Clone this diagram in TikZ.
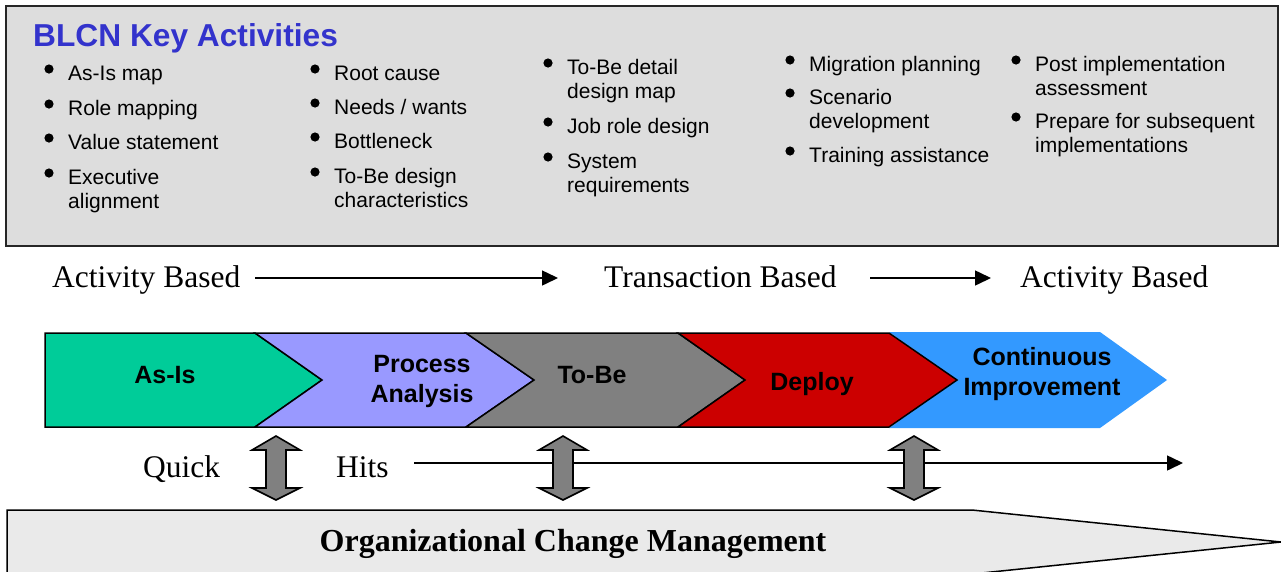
\documentclass[tikz,border=0pt]{standalone}
\usepackage{fontspec}
\setmainfont{Liberation Serif}
\setsansfont{Liberation Sans}
\usetikzlibrary{arrows.meta}
\definecolor{boxgray}{HTML}{DDDDDD}
\definecolor{ocmgray}{HTML}{EAEAEA}
\definecolor{titleblue}{HTML}{3333CC}
\definecolor{asisgreen}{HTML}{00CC99}
\definecolor{procpurple}{HTML}{9999FF}
\definecolor{tobegray}{HTML}{808080}
\definecolor{deployred}{HTML}{CC0000}
\definecolor{ciblue}{HTML}{3399FF}
\tikzset{
  bul/.style={anchor=base west, inner sep=0pt, align=left,
    font=\sffamily\fontsize{21}{24}\selectfont},
  dotb/.style={fill=black},
  serift/.style={anchor=base west, inner sep=0pt, font=\fontsize{31.5}{36}\selectfont},
  chevlbl/.style={anchor=base, inner sep=0pt, align=center,
    font=\sffamily\bfseries\fontsize{25}{29.5}\selectfont},
  chev/.style={draw=black, line width=1.5pt, line join=miter},
  flowarrow/.style={line width=1.5pt, -{Triangle[length=16pt,width=15pt]}},
  dblarrow/.style={draw=black, fill=tobegray, line width=1.6pt, line join=miter},
}
% one-line item: x, baseline y, text
\newcommand{\mybul}[3]{%
  \fill[dotb] (#1-19,#2-11) circle (4.6);
  \node[bul] at (#1,#2) {#3};
}
% two-line item: x, baseline y of first line, first line, second line
\newcommand{\mybulb}[4]{%
  \fill[dotb] (#1-19,#2-11) circle (4.6);
  \node[bul] at (#1,#2+24) {#3\\#4};
}
\newcommand{\dblarr}[2]{% name, x center
  \draw[dblarrow] (#2,436) -- (#2+24,450) -- (#2+10,450) -- (#2+10,488) -- (#2+24,488)
    -- (#2,500) -- (#2-24,488) -- (#2-10,488) -- (#2-10,450) -- (#2-24,450) -- cycle;
  \coordinate (#1) at (#2,468);
}
\begin{document}
\begin{tikzpicture}[x=1pt,y=-1pt]
\useasboundingbox (0,0) rectangle (1281,571);
\clip (0,0) rectangle (1281,571);

% top box
\draw[fill=boxgray, draw=black!85, line width=2pt] (6,6) rectangle (1278,246);
\node[anchor=base west, inner sep=0pt, text=titleblue,
  font=\sffamily\bfseries\fontsize{31.7}{36}\selectfont] (title) at (33,46) {BLCN Key Activities};

% column 1
\mybul{68}{80}{As-Is map}
\mybul{68}{115}{Role mapping}
\mybul{68}{149}{Value statement}
\mybulb{68}{184}{Executive}{alignment}
% column 2
\mybul{334}{80}{Root cause}
\mybul{334}{114}{Needs / wants}
\mybul{334}{148}{Bottleneck}
\mybulb{334}{183}{To-Be design}{characteristics}
% column 3
\mybulb{567}{74}{To-Be detail}{design map}
\mybul{567}{133}{Job role design}
\mybulb{567}{168}{System}{requirements}
% column 4
\mybul{809}{71}{Migration planning}
\mybulb{809}{104}{Scenario}{development}
\mybul{809}{162}{Training assistance}
% column 5
\mybulb{1035}{71}{Post implementation}{assessment}
\mybulb{1035}{128}{Prepare for subsequent}{implementations}

% activity / transaction line
\node[serift] (ab1) at (52,287) {Activity Based};
\node[serift] (tb) at (604,287) {Transaction Based};
\node[serift] (ab2) at (1020,287) {Activity Based};
\coordinate (a1s) at (255,278);
\coordinate (a1e) at (558,278);
\coordinate (a2s) at (870,278);
\coordinate (a2e) at (991,278);
\draw[flowarrow] (a1s) -- (a1e);
\draw[flowarrow] (a2s) -- (a2e);

% chevrons
\fill[ciblue] (889,332) -- (1100,332) -- (1167,380) -- (1100,428) -- (889,428) -- (957,380) -- cycle;
\draw[chev, fill=asisgreen] (45,333) -- (255,333) -- (322,380) -- (255,427) -- (45,427) -- cycle;
\draw[chev, fill=procpurple] (255,333) -- (466,333) -- (534,380) -- (466,427) -- (255,427) -- (322,380) -- cycle;
\draw[chev, fill=tobegray] (466,333) -- (678,333) -- (745,380) -- (678,427) -- (466,427) -- (534,380) -- cycle;
\draw[chev, fill=deployred] (678,333) -- (889,333) -- (957,380) -- (889,427) -- (678,427) -- (745,380) -- cycle;
\node[chevlbl] (asis) at (165,383) {As-Is};
\node[chevlbl] (proc) at (422,402) {Process\\Analysis};
\node[chevlbl] (tobe) at (592,383) {To-Be};
\node[chevlbl] (deploy) at (812,390) {Deploy};
\node[chevlbl] (ci) at (1042,395) {Continuous\\Improvement};

% quick hits
\node[serift] (quick) at (143,477) {Quick};
\node[serift] (hits) at (336,477) {Hits};
\coordinate (qhs) at (414,463);
\coordinate (qhe) at (1183,463);
\draw[flowarrow] (qhs) -- (qhe);

\dblarr{d1}{276}
\dblarr{d2}{563}
\dblarr{d3}{914}

% organizational change management
\draw[fill=ocmgray, draw=black, line width=1.5pt, line join=miter]
  (7,510) -- (972,510) -- (1281,542) -- (972,574) -- (7,574) -- cycle;
\node[anchor=base, inner sep=0pt, font=\bfseries\fontsize{32}{36}\selectfont] (ocm) at (573,551)
  {Organizational Change Management};
\end{tikzpicture}
\end{document}
